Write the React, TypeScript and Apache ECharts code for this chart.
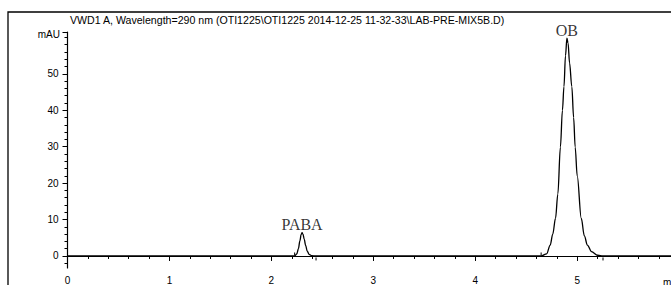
import React, { useEffect, useRef } from "react";
import * as echarts from "echarts";

// Chromatogram samples (time in min, signal in mAU)
const times = [
  0, 2.2, 2.228, 2.25, 2.265, 2.28, 2.292, 2.301, 2.31, 2.322, 2.336, 2.352, 2.37, 2.395, 2.438,
  4.646, 4.7, 4.735, 4.76, 4.787, 4.81, 4.835, 4.855, 4.87, 4.885, 4.899, 4.91, 4.925, 4.947,
  4.965, 4.98, 5.0, 5.04, 5.07, 5.1, 5.14, 5.2, 5.253, 5.92,
];
const signal = [
  0, 0, 0.05, 0.6, 2.0, 4.2, 5.9, 6.4, 6.0, 4.6, 2.9, 1.3, 0.45, 0.1, 0,
  0, 0.6, 3, 6, 10.3, 17, 29.9, 40, 46.5, 55, 59.8, 58.5, 53, 46.5,
  38, 29.9, 22, 10.3, 5.5, 3, 1.2, 0.2, 0, 0,
];

// Peak annotations
const peakNames = ["PABA", "OB"];
const peakTimes = [2.301, 4.899];
const peakHeights = [6.4, 59.8];

// Integration start/end markers (1 = start, above baseline; -1 = end, below)
const markerTimes = [2.228, 2.438, 4.646, 5.253];
const markerDirs = [1, -1, 1, -1];

// Axis ticks / labels
const xLabels = [0, 1, 2, 3, 4, 5];
const xMinor = [0.2, 0.4, 0.6, 0.8, 1.2, 1.4, 1.6, 1.8, 2.2, 2.4, 2.6, 2.8, 3.2, 3.4, 3.6, 3.8, 4.2, 4.4, 4.6, 4.8, 5.2, 5.4, 5.6, 5.8];
const yLabels = [0, 10, 20, 30, 40, 50];
const yMinor = [-2, 2, 4, 6, 8, 12, 14, 16, 18, 22, 24, 26, 28, 32, 34, 36, 38, 42, 44, 46, 48, 52, 54, 56, 58, 60];

const X_MIN = 0;
const X_MAX = 5.92;
const Y_MIN = -3.3;
const Y_MAX = 61.5;

const title = "VWD1 A, Wavelength=290 nm (OTI1225\\OTI1225 2014-12-25 11-32-33\\LAB-PRE-MIX5B.D)";

const SANS = '"Liberation Sans", Arial, sans-serif';
const SERIF = '"Liberation Serif", "Times New Roman", serif';

export default function App() {
  const ref = useRef<HTMLDivElement>(null);

  useEffect(() => {
    if (!ref.current) return;
    const chart = echarts.init(ref.current, undefined, { renderer: "svg" });

    const lineData = times.map((t, i) => [t, signal[i]]);
    const peakData = peakTimes.map((t, i) => ({ value: [t, peakHeights[i]], name: peakNames[i] }));
    const markerData = markerTimes.map((t, i) => [t, markerDirs[i]]);

    const axisLine = { show: true, lineStyle: { color: "#000", width: 1.2 } };

    chart.setOption({
      animation: false,
      backgroundColor: "#fff",
      grid: { left: 67.5, right: 0, top: 32, bottom: 15.7, containLabel: false },
      xAxis: [
        {
          type: "value",
          min: X_MIN,
          max: X_MAX,
          position: "bottom",
          axisLine,
          splitLine: { show: false },
          axisTick: { show: true, customValues: xLabels, length: 5, lineStyle: { color: "#000" } },
          axisLabel: {
            show: true,
            customValues: xLabels,
            margin: 7,
            color: "#000",
            fontFamily: SANS,
            fontSize: 10,
          },
        },
        {
          type: "value",
          min: X_MIN,
          max: X_MAX,
          position: "bottom",
          axisLine: { show: false },
          splitLine: { show: false },
          axisTick: { show: true, customValues: xMinor, length: 3, lineStyle: { color: "#000" } },
          axisLabel: { show: false },
        },
      ],
      yAxis: [
        {
          type: "value",
          min: Y_MIN,
          max: Y_MAX,
          position: "left",
          axisLine,
          splitLine: { show: false },
          axisTick: { show: true, customValues: [...yLabels, Y_MAX], length: 5, lineStyle: { color: "#000" } },
          axisLabel: {
            show: true,
            customValues: yLabels,
            margin: 9,
            color: "#000",
            fontFamily: SANS,
            fontSize: 10,
          },
        },
        {
          type: "value",
          min: Y_MIN,
          max: Y_MAX,
          position: "left",
          axisLine: { show: false },
          splitLine: { show: false },
          axisTick: { show: true, customValues: yMinor, length: 3, lineStyle: { color: "#000" } },
          axisLabel: { show: false },
        },
      ],
      series: [
        {
          type: "line",
          data: lineData,
          xAxisIndex: 0,
          yAxisIndex: 0,
          showSymbol: false,
          smooth: 0.35,
          smoothMonotone: "x",
          clip: false,
          lineStyle: { color: "#000", width: 1.3 },
        },
        {
          type: "scatter",
          data: peakData,
          symbolSize: 0,
          label: {
            show: true,
            position: "top",
            distance: 0,
            formatter: "{b}",
            color: "#000",
            fontFamily: SERIF,
            fontSize: 16,
            lineHeight: 16,
          },
        },
        {
          type: "custom",
          data: markerData,
          renderItem: (params: any, api: any) => {
            const p = api.coord([api.value(0), 0]);
            const dir = api.value(1);
            const y1 = dir > 0 ? p[1] - 0.5 : p[1] + 1.5;
            const y2 = dir > 0 ? p[1] - 3.5 : p[1] + 4.5;
            return {
              type: "line",
              shape: { x1: p[0], y1, x2: p[0], y2 },
              style: { stroke: "#000", lineWidth: 1 },
            };
          },
        },
      ],
      graphic: [
        {
          type: "rect",
          shape: { x: 8, y: 12, width: 720, height: 320 },
          style: { fill: "none", stroke: "#000", lineWidth: 1.3 },
          silent: true,
        },
        {
          type: "text",
          x: 70,
          y: 20,
          style: {
            text: title,
            font: `10.6px ${SANS}`,
            fill: "#000",
            verticalAlign: "middle",
            align: "left",
          },
        },
        {
          type: "text",
          x: 60,
          y: 34,
          style: {
            text: "mAU",
            font: `10px ${SANS}`,
            fill: "#000",
            verticalAlign: "middle",
            align: "right",
          },
        },
        {
          type: "text",
          x: 663,
          y: 282,
          style: {
            text: "min",
            font: `10px ${SANS}`,
            fill: "#000",
            verticalAlign: "middle",
            align: "left",
          },
        },
      ],
    });

    return () => chart.dispose();
  }, []);

  return (
    <div
      ref={ref}
      style={{ position: "absolute", left: 0, top: 0, width: 671, height: 285, background: "#fff" }}
    />
  );
}
